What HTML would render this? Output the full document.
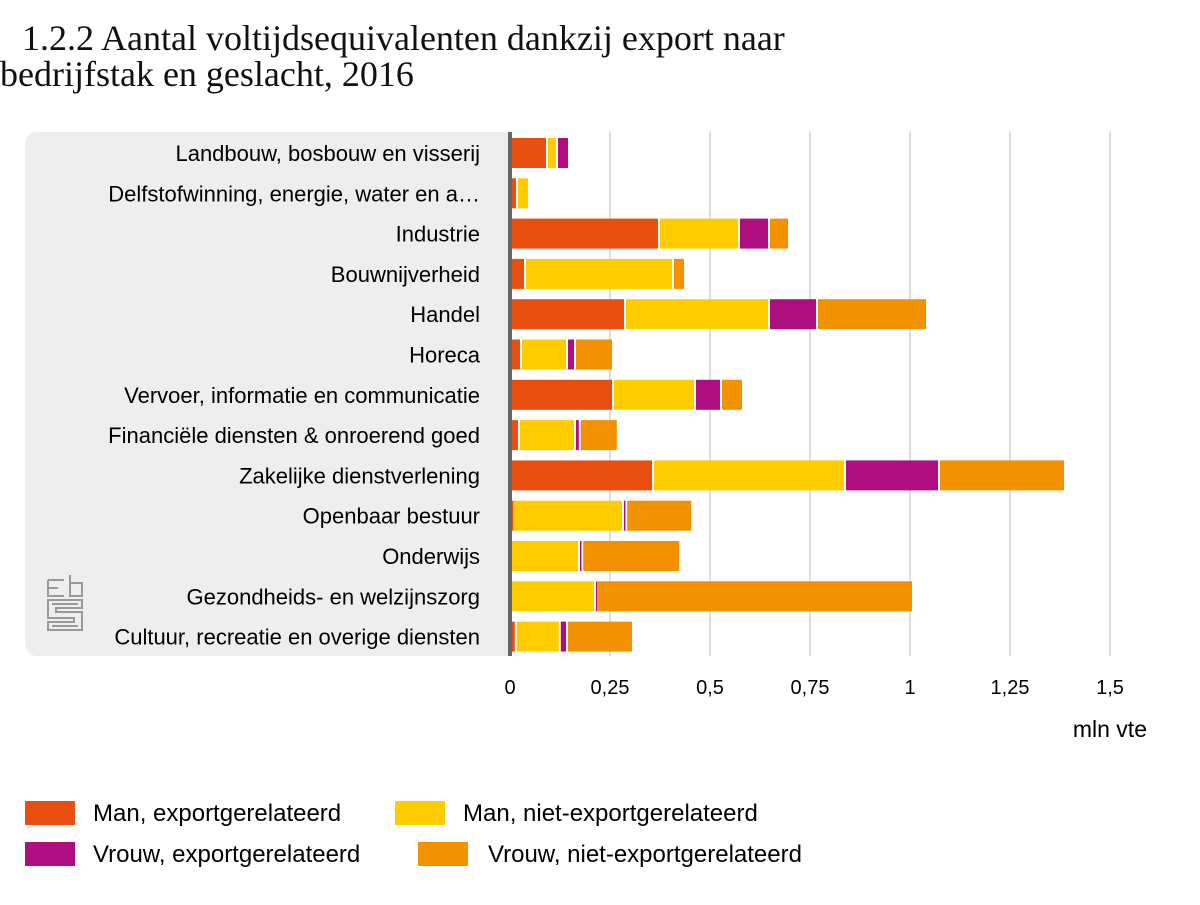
<!DOCTYPE html>
<html><head><meta charset="utf-8"><style>
body{margin:0;background:#fff;width:1200px;height:900px;overflow:hidden;font-family:"Liberation Sans",sans-serif}
</style></head><body>
<svg width="1200" height="900" xmlns="http://www.w3.org/2000/svg">
<text x="22" y="50" font-family="Liberation Serif,serif" font-size="36" fill="#111">1.2.2 Aantal voltijdsequivalenten dankzij export naar</text>
<text x="0" y="86" font-family="Liberation Serif,serif" font-size="36" fill="#111">bedrijfstak en geslacht, 2016</text>
<path d="M37 132H508V656H37A12 12 0 0 1 25 644V144A12 12 0 0 1 37 132Z" fill="#eeeeee"/>
<g id="grid"></g>
<g id="bars"></g>
<rect x="508" y="132" width="4" height="524" fill="#666"/>
<g id="labels"></g>
<g id="ticks"></g>
<text x="1147" y="737" text-anchor="end" font-size="23" fill="#000">mln vte</text>
<g fill="none" stroke="#999" stroke-width="2">
<path d="M48 580v16h16M48 580h16M48 588h10 M70 575v21h12v-13h-12"/>
<path d="M48 600h34v8h-26v4h26v18h-34v-8h26v-4h-26z M52 604h26 M52 626h26"/>
</g>
<g id="legend"></g>
</svg>
<script>
const categories=["Landbouw, bosbouw en visserij","Delfstofwinning, energie, water en a…","Industrie","Bouwnijverheid","Handel","Horeca","Vervoer, informatie en communicatie","Financiële diensten & onroerend goed","Zakelijke dienstverlening","Openbaar bestuur","Onderwijs","Gezondheids- en welzijnszorg","Cultuur, recreatie en overige diensten"];
const manExport=[0.09,0.015,0.37,0.035,0.285,0.025,0.255,0.02,0.355,0.005,0,0,0.012];
const manNonExport=[0.025,0.03,0.2,0.37,0.36,0.115,0.205,0.14,0.48,0.275,0.17,0.21,0.11];
const vrouwExport=[0.03,0,0.075,0,0.12,0.02,0.065,0.012,0.235,0.008,0.008,0.005,0.018];
const vrouwNonExport=[0,0,0.05,0.03,0.275,0.095,0.055,0.095,0.315,0.165,0.245,0.79,0.165];
const ticks=[0,0.25,0.5,0.75,1,1.25,1.5];
const tickLabels=["0","0,25","0,5","0,75","1","1,25","1,5"];
const seriesNames=["Man, exportgerelateerd","Man, niet-exportgerelateerd","Vrouw, exportgerelateerd","Vrouw, niet-exportgerelateerd"];
const colors=["#e84e0f","#ffcc00","#af0e80","#f39200"];
const NS="http://www.w3.org/2000/svg";
const x=v=>510+v*400;
const y=i=>153+i*40.3;
function mk(t,a,p){const e=document.createElementNS(NS,t);for(const k in a)e.setAttribute(k,a[k]);p.appendChild(e);return e;}
const grid=document.getElementById('grid'),tk=document.getElementById('ticks');
ticks.forEach((t,i)=>{
 if(t>0){const l=mk('line',{x1:x(t),x2:x(t),y1:132,y2:656,stroke:'#bbb','stroke-width':1},grid);
 
 }
 const tx=mk('text',{x:x(t),y:694,'text-anchor':'middle','font-size':20,fill:'#000'},tk);tx.textContent=tickLabels[i];
 
 
});
const series=[manExport,manNonExport,vrouwExport,vrouwNonExport];
const bars=document.getElementById('bars'),lab=document.getElementById('labels');
categories.forEach((c,i)=>{
 const t=mk('text',{x:480,y:y(i)+8,'text-anchor':'end','font-size':22,fill:'#000'},lab);t.textContent=c;
 
 
 let cum=0;
 series.forEach((s,j)=>{
  const v=s[i];const w=x(cum+v)-x(cum)-2;
  if(v>0){const r=mk('rect',{x:x(cum)+2,y:y(i)-15,width:Math.max(w,1.5),height:30,fill:colors[j]},bars);
  
  }
  cum+=v;
 });
});
const lg=document.getElementById('legend');
const lpos=[[25,801,93],[395,801,463],[25,842,93],[418,842,488]];
seriesNames.forEach((n,j)=>{
 const [sx,sy,tx]=lpos[j];
 const r=mk('rect',{x:sx,y:sy,width:50,height:24,fill:colors[j]},lg);
 
 
 const t=mk('text',{x:tx,y:sy+20,'font-size':24,fill:'#000'},lg);t.textContent=n;
 
 
});
</script>
</body></html>
